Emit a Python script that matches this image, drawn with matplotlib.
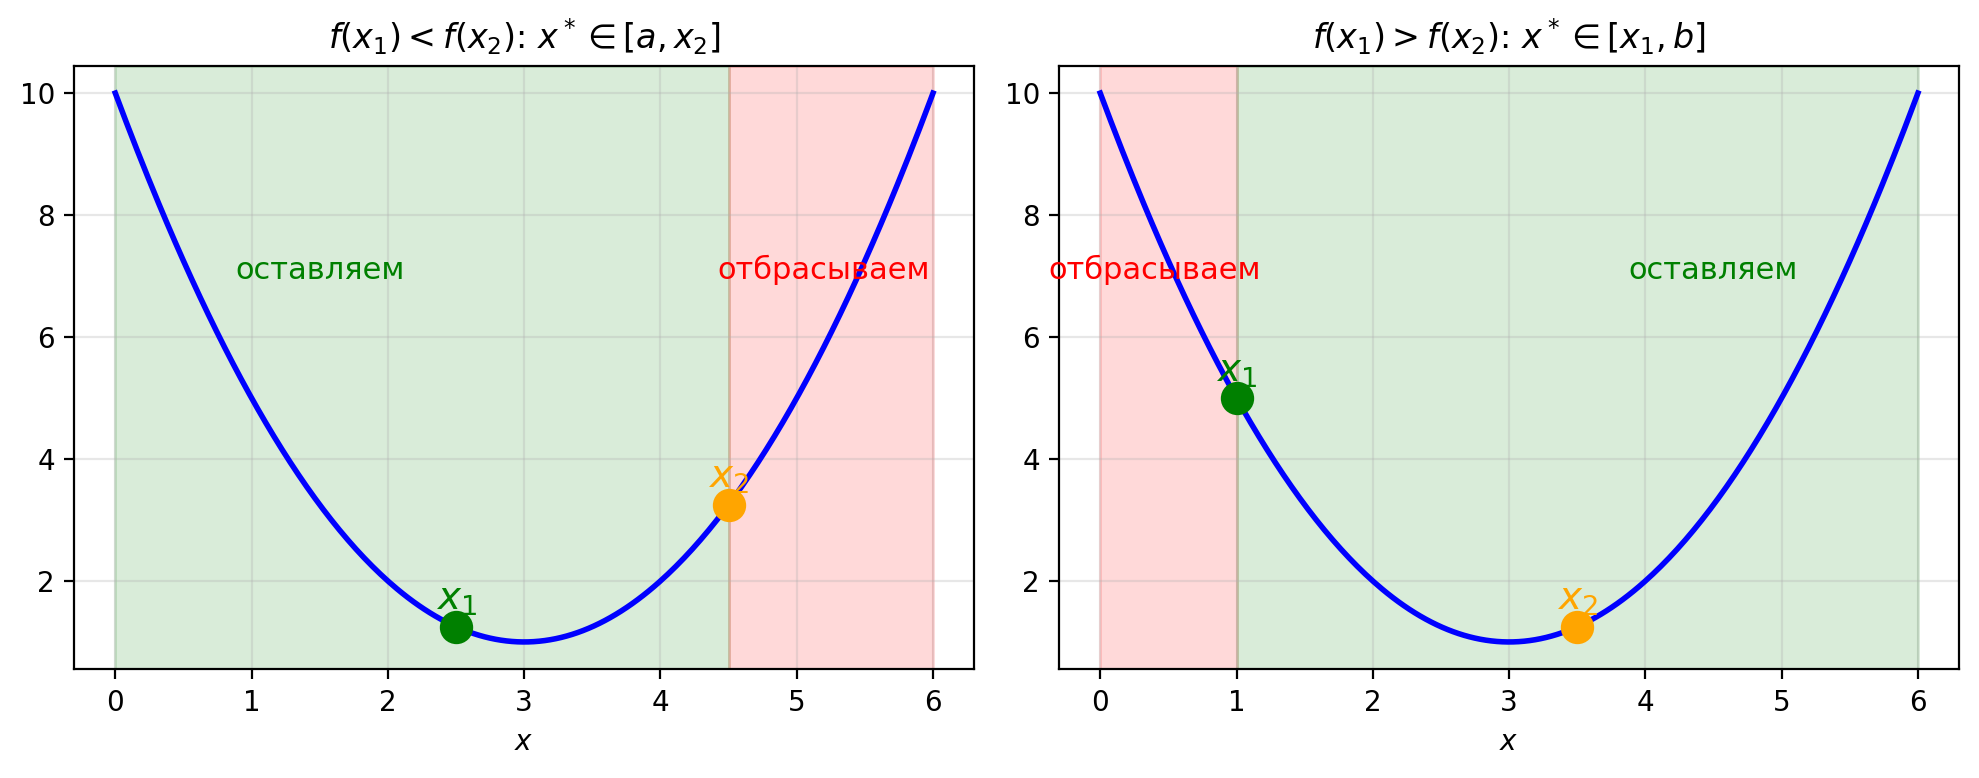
import numpy as np
import matplotlib
matplotlib.use("Agg")
import matplotlib.pyplot as plt

# Parabool f(x) = (x - 3)^2 + 1 op [a, b]
a, b = 0.0, 6.0
vertex_x, vertex_y = 3.0, 1.0

# Proefpunten per paneel
x1_links, x2_links = 2.5, 4.5
x1_rechts, x2_rechts = 1.0, 3.5

titels = [r"$f(x_1) < f(x_2)$: $x^* \in [a, x_2]$",
          r"$f(x_1) > f(x_2)$: $x^* \in [x_1, b]$"]
label_houden = "оставляем"
label_weg = "отбрасываем"


def f(x):
    return (x - vertex_x) ** 2 + vertex_y


x = np.linspace(a, b, 300)

fig, axes = plt.subplots(1, 2, figsize=(9.895, 3.89), dpi=200)

# Linker paneel: [x2, b] valt af
ax = axes[0]
ax.plot(x, f(x), color="blue", linewidth=2)
ax.axvspan(a, x2_links, color="green", alpha=0.15)
ax.axvspan(x2_links, b, color="red", alpha=0.15)
ax.plot(x1_links, f(x1_links), "o", color="green", markersize=11, zorder=5)
ax.plot(x2_links, f(x2_links), "o", color="orange", markersize=11, zorder=5)
ax.annotate(r"$x_1$", (x1_links, f(x1_links)), textcoords="offset points",
            xytext=(0, 6), ha="center", fontsize=14, color="green")
ax.annotate(r"$x_2$", (x2_links, f(x2_links)), textcoords="offset points",
            xytext=(0, 6), ha="center", fontsize=14, color="orange")
ax.text(1.5, 6.95, label_houden, ha="center", fontsize=11, color="green")
ax.text(5.2, 6.95, label_weg, ha="center", fontsize=11, color="red")
ax.set_title(titels[0])

# Rechter paneel: [a, x1] valt af
ax = axes[1]
ax.plot(x, f(x), color="blue", linewidth=2)
ax.axvspan(a, x1_rechts, color="red", alpha=0.15)
ax.axvspan(x1_rechts, b, color="green", alpha=0.15)
ax.plot(x1_rechts, f(x1_rechts), "o", color="green", markersize=11, zorder=5)
ax.plot(x2_rechts, f(x2_rechts), "o", color="orange", markersize=11, zorder=5)
ax.annotate(r"$x_1$", (x1_rechts, f(x1_rechts)), textcoords="offset points",
            xytext=(0, 6), ha="center", fontsize=14, color="green")
ax.annotate(r"$x_2$", (x2_rechts, f(x2_rechts)), textcoords="offset points",
            xytext=(0, 6), ha="center", fontsize=14, color="orange")
ax.text(0.4, 6.95, label_weg, ha="center", fontsize=11, color="red")
ax.text(4.5, 6.95, label_houden, ha="center", fontsize=11, color="green")
ax.set_title(titels[1])

for ax in axes:
    ax.set_xlabel("$x$")
    ax.grid(True, alpha=0.3)

fig.subplots_adjust(left=0.0376, right=0.9898, top=0.9156, bottom=0.1396, wspace=0.095)
plt.savefig("out.png", dpi=200)
